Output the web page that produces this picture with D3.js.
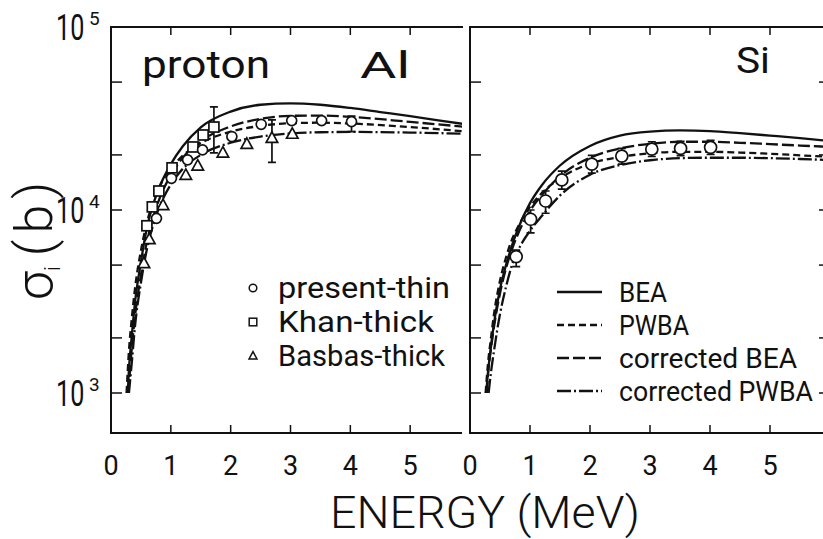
<!DOCTYPE html>
<html>
<head>
<meta charset="utf-8">
<title>K-shell ionization cross sections, Al and Si</title>
<script src="https://d3js.org/d3.v7.min.js"></script>
<style>
  body { margin: 0; background: #fff; }
  svg text { font-family: Roboto, "DejaVu Sans", sans-serif; font-weight: 400; fill: #111; }
  svg text.big { font-weight: 300; }
</style>
</head>
<body>
<script>
// energies in MeV, cross sections in barns
var energyTicks = [0, 1, 2, 3, 4, 5];
var sigmaTicks = [1e3, 2e3, 5e3, 1e4, 2e4, 5e4];
var decadeLabels = [3, 4, 5];

// Al theory curves
var alBEA  = [[0.28,1000],[0.3,1350],[0.35,2100],[0.4,3100],[0.5,5200],[0.6,8000],[0.7,10600],[0.8,13100],[1.0,17800],[1.2,22300],[1.5,28300],[2.0,34500],[2.5,37600],[3.0,38300],[3.5,37600],[4.0,36100],[4.5,34300],[5.0,32600],[5.5,30800],[5.9,29500]];
var alPWBA = [[0.26,1000],[0.3,1700],[0.35,2600],[0.4,3700],[0.5,6000],[0.6,8500],[0.7,11000],[0.8,13200],[1.0,16800],[1.2,19800],[1.5,23200],[2.0,26800],[2.5,28800],[3.0,29800],[3.5,30000],[4.0,29700],[5.0,28400],[5.9,26900]];
var alCBEA = [[0.29,1000],[0.35,1800],[0.4,2600],[0.5,4400],[0.6,6700],[0.7,9000],[0.8,11300],[1.0,15500],[1.2,19300],[1.5,23800],[2.0,28600],[2.5,31500],[3.0,32700],[3.5,32800],[4.0,32300],[5.0,30300],[5.9,28500]];
var alCPWBA = [[0.3,1000],[0.35,1500],[0.4,2300],[0.5,4000],[0.6,6100],[0.7,8200],[0.8,10200],[1.0,13800],[1.2,16800],[1.5,20000],[2.0,23300],[2.5,25200],[3.0,26200],[3.5,26600],[4.0,26700],[5.0,26500],[5.9,26100]];

// Al measurements: [E, sigma, errLow, errHigh]
var alThin   = [[0.76,9000],[1.01,14900],[1.28,18800],[1.53,21300],[2.02,25200],[2.51,29400],[3.02,30800],[3.52,30800],[4.02,30400,26800,32600]];
var alKhan   = [[0.60,8200],[0.69,10400],[0.80,12700],[1.02,17000],[1.37,22100],[1.54,25700],[1.72,28400,20500,36600]];
var alBasbas = [[0.55,5100],[0.64,6900],[0.87,10600],[1.25,15500],[1.45,17400],[1.87,20500],[2.27,22900],[2.69,24700,18200,31100],[3.03,26000]];

// Si theory curves
var siBEA  = [[0.27,1000],[0.3,1300],[0.35,1800],[0.4,2400],[0.5,3700],[0.6,5000],[0.7,6400],[0.8,7900],[1.0,10900],[1.2,13700],[1.5,17500],[2.0,22400],[2.5,25500],[3.0,26800],[3.5,27200],[4.0,27000],[4.5,26300],[5.0,25500],[5.5,24700],[5.9,24000]];
var siPWBA = [[0.26,1000],[0.3,1450],[0.35,2000],[0.4,2700],[0.5,4100],[0.6,5500],[0.7,6900],[0.8,8100],[1.0,10400],[1.2,12400],[1.5,14900],[2.0,17900],[2.5,19500],[3.0,20400],[3.5,20800],[4.0,20800],[4.5,20600],[5.0,20300],[5.5,19900],[5.9,19600]];
var siCBEA = [[0.28,1000],[0.3,1250],[0.35,1750],[0.4,2300],[0.5,3500],[0.6,4800],[0.7,6100],[0.8,7400],[1.0,9900],[1.2,12100],[1.5,15300],[2.0,19300],[2.5,21700],[3.0,23000],[3.5,23600],[4.0,23600],[4.5,23300],[5.0,22900],[5.5,22500],[5.9,22200]];
var siCPWBA = [[0.31,1000],[0.35,1300],[0.4,1700],[0.5,2700],[0.6,3800],[0.7,5000],[0.8,6000],[1.0,7700],[1.2,9300],[1.5,12000],[2.0,15600],[2.5,17600],[3.0,18700],[3.5,19200],[4.0,19300],[4.5,19300],[5.0,19200],[5.5,19000],[5.9,18800]];

var siThin = [[0.77,5560,4900,6040],[1.01,8900,7500,10000],[1.26,11200,9600,12700],[1.53,14600,13000,16300],[2.03,17800,15900,19900],[2.53,19700,17800,21700],[3.03,21500,19600,23600],[3.51,21700,19800,23700],[4.01,22000,20100,24000]];

var dataLabels = ["present-thin", "Khan-thick", "Basbas-thick"];
var theoryLabels = ["BEA", "PWBA", "corrected BEA", "corrected PWBA"];
var dashes = [null, "7,4", "12,4", "14,3,2,3"];

var W = 823, H = 539;
var svg = d3.select("body").append("svg").attr("width", W).attr("height", H);

var y = d3.scaleLog().domain([Math.pow(10, 3 - 40 / 183), 1e5]).range([433, 27]);
var xL = d3.scaleLinear().domain([0, 6]).range([111, 470]);
var xR = d3.scaleLinear().domain([0, 6]).range([470, 830]);

var ink = "#111";

// lettering is squeezed to a fixed width so it keeps the narrow stencil look
function fit(sel, w) {
  return sel.attr("textLength", w).attr("lengthAdjust", "spacingAndGlyphs");
}

svg.append("defs").selectAll("clipPath")
  .data([["clipL", 111, 462], ["clipR", 470, 830]])
  .enter().append("clipPath").attr("id", function(d){ return d[0]; })
  .append("rect")
  .attr("x", function(d){ return d[1]; }).attr("y", 27)
  .attr("width", function(d){ return d[2] - d[1]; }).attr("height", 406);

function frame(x, xEnd, rightSide) {
  var g = svg.append("g").attr("stroke", ink).attr("stroke-width", 2).attr("fill", "none");
  var x0 = x(0);
  g.append("path").attr("d", "M" + xEnd + "," + y.range()[1] + "H" + x0 + "V" + y.range()[0] + "H" + (rightSide ? xEnd : xEnd - 1));
  if (rightSide) g.append("path").attr("d", "M" + xEnd + "," + y.range()[1] + "V" + y.range()[0]);
  energyTicks.slice(1).forEach(function(e){
    g.append("line").attr("x1", x(e)).attr("x2", x(e)).attr("y1", 433).attr("y2", 425).attr("stroke-width", 1.5);
    g.append("line").attr("x1", x(e)).attr("x2", x(e)).attr("y1", 27).attr("y2", 35).attr("stroke-width", 1.5);
  });
  sigmaTicks.forEach(function(s){
    g.append("line").attr("x1", x0).attr("x2", x0 + 11).attr("y1", y(s)).attr("y2", y(s)).attr("stroke-width", 1.5);
    if (rightSide) g.append("line").attr("x1", xEnd).attr("x2", xEnd - 11).attr("y1", y(s)).attr("y2", y(s)).attr("stroke-width", 1.5);
  });
  svg.append("g").selectAll("text").data(energyTicks).enter().append("text")
    .attr("x", function(d){ return x(d); }).attr("y", 475)
    .attr("text-anchor", "middle").attr("font-size", 27)
    .text(function(d){ return d; });
}

function curves(x, sets, clip) {
  var line = d3.line().curve(d3.curveMonotoneX)
    .x(function(d){ return x(d[0]); }).y(function(d){ return y(d[1]); });
  svg.append("g").attr("clip-path", "url(#" + clip + ")")
    .selectAll("path").data(sets).enter().append("path")
    .attr("d", function(d){ return line(d); })
    .attr("fill", "none").attr("stroke", ink).attr("stroke-width", 2.3)
    .attr("stroke-dasharray", function(d, i){ return dashes[i]; });
}

function marker(sel, kind, s) {
  if (kind === "circle") return sel.append("circle").attr("r", s);
  if (kind === "square") return sel.append("rect").attr("x", -s).attr("y", -s).attr("width", 2 * s).attr("height", 2 * s);
  var h = s * 1.9;
  return sel.append("path").attr("d", "M0," + (-h * 0.6) + "L" + (h * 0.55) + "," + (h * 0.4) + "L" + (-h * 0.55) + "," + (h * 0.4) + "Z");
}

function points(x, data, kind, size) {
  var g = svg.append("g").attr("stroke", ink).attr("stroke-width", 1.7).attr("fill", "#fff");
  data.forEach(function(d){
    if (d.length > 2) {
      g.append("path").attr("fill", "none")
        .attr("d", "M" + x(d[0]) + "," + y(d[2]) + "V" + y(d[3]) +
                   "M" + (x(d[0]) - 4) + "," + y(d[2]) + "h8" +
                   "M" + (x(d[0]) - 4) + "," + y(d[3]) + "h8");
    }
    var m = g.append("g").attr("transform", "translate(" + x(d[0]) + "," + y(d[1]) + ")");
    marker(m, kind, size);
  });
}

// left panel: Al
frame(xL, 463, false);
curves(xL, [alBEA, alPWBA, alCBEA, alCPWBA], "clipL");
points(xL, alBasbas, "triangle", 5.5);
points(xL, alKhan, "square", 5);
points(xL, alThin, "circle", 5);

// right panel: Si
frame(xR, 830, true);
curves(xR, [siBEA, siPWBA, siCBEA, siCPWBA], "clipR");
points(xR, siThin, "circle", 6);

// decade labels on the sigma axis: narrow "10" plus exponent
var dl = svg.append("g").selectAll("g").data(decadeLabels).enter().append("g")
  .attr("transform", function(d){ return "translate(56," + (y(Math.pow(10, d)) + 13) + ")"; });
dl.append("text").attr("transform", "scale(0.68,1)").attr("font-size", 37)
  .attr("font-weight", 500).text("10");
dl.append("text").attr("x", 33).attr("y", -15).attr("font-size", 19).text(function(d){ return d; });

// panel titles
fit(svg.append("text").attr("x", 142).attr("y", 78).attr("font-size", 38).text("proton"), 128);
fit(svg.append("text").attr("x", 360).attr("y", 78).attr("font-size", 36).text("Al"), 50);
fit(svg.append("text").attr("x", 736).attr("y", 73).attr("font-size", 37).text("Si"), 34);

// axis titles
fit(svg.append("text").attr("class", "big").attr("x", 330).attr("y", 528).attr("font-size", 45).text("ENERGY (MeV)"), 310);
var yt = svg.append("text").attr("class", "big").attr("transform", "translate(52,300) rotate(-90)").attr("font-size", 52);
yt.append("tspan").text("σ");
yt.append("tspan").attr("font-size", 22).attr("dy", 8).text("i");
yt.append("tspan").attr("dy", -8).attr("dx", 10).text("(");
yt.append("tspan").attr("dx", 6).text("b");
yt.append("tspan").attr("dx", 6).text(")");

// legend for measurements
var kinds = ["circle", "square", "triangle"];
var dataWidths = [172, 156, 167];
var lg = svg.append("g").selectAll("g").data(dataLabels).enter().append("g")
  .attr("transform", function(d, i){ return "translate(253," + (288 + 34 * i) + ")"; });
lg.each(function(d, i){
  var m = d3.select(this).append("g").attr("stroke", ink).attr("stroke-width", 1.5).attr("fill", "#fff");
  marker(m, kinds[i], 3.8);
});
lg.append("text").attr("x", 25).attr("y", 10).attr("font-size", 29)
  .attr("textLength", function(d, i){ return dataWidths[i]; }).attr("lengthAdjust", "spacingAndGlyphs")
  .text(function(d){ return d; });

// legend for theory curves
var theoryWidths = [48, 70, 178, 194];
var lt = svg.append("g").selectAll("g").data(theoryLabels).enter().append("g")
  .attr("transform", function(d, i){ return "translate(557," + (292 + 33 * i) + ")"; });
lt.append("line").attr("x1", 0).attr("x2", 45).attr("stroke", ink).attr("stroke-width", 2.3)
  .attr("stroke-dasharray", function(d, i){ return dashes[i]; });
lt.append("text").attr("x", 62).attr("y", 10).attr("font-size", 28)
  .attr("textLength", function(d, i){ return theoryWidths[i]; }).attr("lengthAdjust", "spacingAndGlyphs")
  .text(function(d){ return d; });
</script>
</body>
</html>
